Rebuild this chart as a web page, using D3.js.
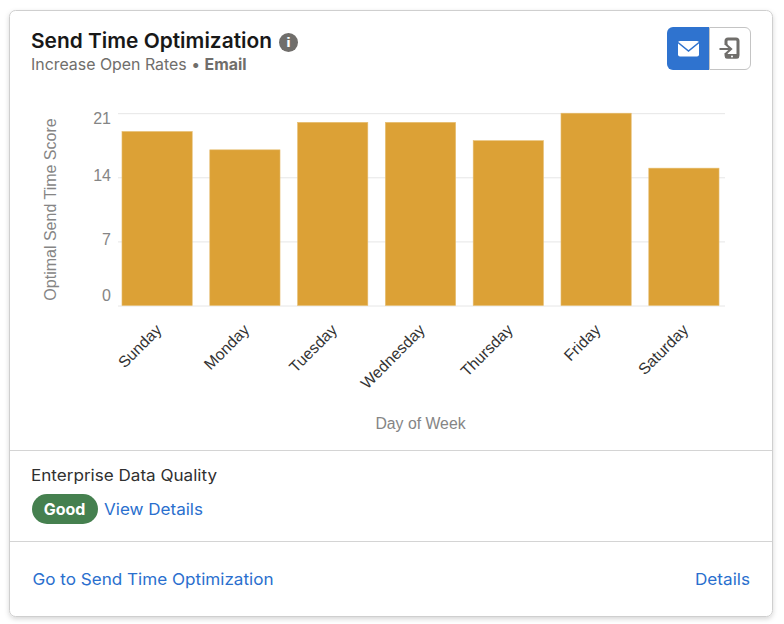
<!DOCTYPE html>
<html><head><meta charset="utf-8">
<script src="https://cdn.jsdelivr.net/npm/d3@7/dist/d3.min.js"></script>
<style>html,body{margin:0;padding:0;background:#fff}svg{display:block}</style>
</head><body><svg id="c" width="784" height="624"></svg>
<script>
const categories=["Sunday","Monday","Tuesday","Wednesday","Thursday","Friday","Saturday"];
const scores=[19,17,20,20,18,21,15];
const yTicks=[0,7,14,21];
const yTitle="Optimal Send Time Score";
const xTitle="Day of Week";
const ui="Inter, 'Noto Sans', sans-serif";
const chartFont="'Liberation Sans', Arial, sans-serif";
const svg=d3.select("#c");
const defs=svg.append("defs");
const f=defs.append("filter").attr("id","sh").attr("x","-5%").attr("y","-5%").attr("width","110%").attr("height","110%");
f.append("feDropShadow").attr("dx",0).attr("dy",2).attr("stdDeviation",2.5).attr("flood-color","#000").attr("flood-opacity",.16);
svg.append("rect").attr("x",9.5).attr("y",10.5).attr("width",763).attr("height",606).attr("rx",6)
 .attr("fill","#fff").attr("stroke","#cfcfcf").attr("filter","url(#sh)");
function txt(x,y,s,o={}){return svg.append("text").attr("x",x).attr("y",y).text(s)
 .attr("font-family",o.ff||ui).attr("font-size",o.fs||16).attr("font-weight",o.fw||400)
 .attr("fill",o.c||"#222").attr("text-anchor",o.a||"start").attr("textLength",o.w||null).attr("lengthAdjust","spacingAndGlyphs");}
txt(31,48,"Send Time Optimization",{fs:20.5,fw:600,c:"#181818",w:241});
svg.append("circle").attr("cx",288.5).attr("cy",42.5).attr("r",9.5).attr("fill","#706e6b");
txt(288.5,47,"i",{fs:13,fw:800,c:"#fff",a:"middle",ff:"'DejaVu Sans'"});
const sub=txt(31,70,"",{fs:15.9,c:"#706e6b"});
sub.append("tspan").text("Increase Open Rates • ");
sub.append("tspan").attr("font-weight",700).text("Email");
// toggle buttons
svg.append("path").attr("d","M709,27H673a6,6 0 0 0 -6,6V64a6,6 0 0 0 6,6H709Z").attr("fill","#2f73cf");
svg.append("path").attr("d","M709.5,27.5H745a5.5,5.5 0 0 1 5.5,5.5V64a5.5,5.5 0 0 1 -5.5,5.5H709.5Z").attr("fill","#fff").attr("stroke","#c4c4c4");
svg.append("rect").attr("x",678).attr("y",41).attr("width",21).attr("height",15.5).attr("rx",2).attr("fill","#fff");
svg.append("path").attr("d","M678,42.5L688.5,51L699,42.5").attr("fill","none").attr("stroke","#2f73cf").attr("stroke-width",1.6);
svg.append("path").attr("d","M726,45V41a2,2 0 0 1 2,-2h8a2,2 0 0 1 2,2V55a2,2 0 0 1 -2,2h-8a2,2 0 0 1 -2,-2V53").attr("fill","none").attr("stroke","#706e6b").attr("stroke-width",3);
svg.append("rect").attr("x",725).attr("y",54).attr("width",14).attr("height",4.5).attr("rx",1.5).attr("fill","#706e6b");
svg.append("path").attr("d","M719.5,49H730M726,44.5L731,49L726,53.5").attr("fill","none").attr("stroke","#706e6b").attr("stroke-width",2.2);
svg.append("circle").attr("cx",732).attr("cy",56.5).attr("r",1).attr("fill","#fff");
// scales
const x=d3.scaleBand().domain(categories).range([113.2,727.8]).paddingInner(.2).paddingOuter(.1);
const y=d3.scaleLinear().domain([0,21]).range([305.5,113.2]);
// label nudges follow the reference: the outer ticks sit inside the plot
const labelNudge=new Map([[0,-9],[7,-1],[14,-1],[21,6.5]]);
const gy=svg.append("g").attr("transform","translate(118,0)")
 .call(d3.axisLeft(y).tickValues(yTicks).tickSize(-607).tickPadding(7));
gy.select(".domain").remove();
gy.selectAll("line").attr("stroke","#e6e6e6");
gy.selectAll("text").attr("font-family",chartFont).attr("font-size",16).attr("fill","#858585").attr("dy",null)
 .attr("y",d=>labelNudge.get(d)).attr("dominant-baseline","middle");
// bars
svg.append("g").selectAll("rect").data(categories).join("rect")
 .attr("x",d=>x(d)).attr("width",x.bandwidth())
 .attr("y",(d,i)=>y(scores[i])).attr("height",(d,i)=>y(0)-y(scores[i]))
 .attr("fill","#dca136").attr("stroke","#e6bd70").attr("stroke-width",.6);
// x axis
const gx=svg.append("g").attr("transform","translate(0,305.5)").call(d3.axisBottom(x).tickSize(0));
gx.select(".domain").remove();
gx.selectAll("text").attr("font-family",chartFont).attr("font-size",15.8).attr("fill","#333")
 .attr("text-anchor","end").attr("dy",null).attr("y",0)
 .attr("transform","translate(2.5,22.5) rotate(-45)").attr("dominant-baseline","middle");
txt(420.5,429,xTitle,{ff:chartFont,fs:15.8,c:"#858585",a:"middle"});
svg.append("text").text(yTitle).attr("transform","translate(56,209.5) rotate(-90)").attr("text-anchor","middle")
 .attr("font-family",chartFont).attr("font-size",16).attr("fill","#858585");
// footer
[450.5,541.5].forEach(v=>svg.append("line").attr("x1",10).attr("x2",772).attr("y1",v).attr("y2",v).attr("stroke","#d4d4d4"));
txt(31,481,"Enterprise Data Quality",{fs:15.5,c:"#303030",w:186});
svg.append("rect").attr("x",32).attr("y",494).attr("width",66).attr("height",30).attr("rx",15).attr("fill","#45804f");
txt(64.5,514.5,"Good",{fs:16,fw:700,c:"#fff",a:"middle"});
txt(104,514.5,"View Details",{fs:16,c:"#2a6fce",w:99});
txt(32.5,585,"Go to Send Time Optimization",{fs:16.5,c:"#2a6fce",w:241});
txt(750,585,"Details",{fs:16.5,c:"#2a6fce",a:"end",w:55});
</script></body></html>
